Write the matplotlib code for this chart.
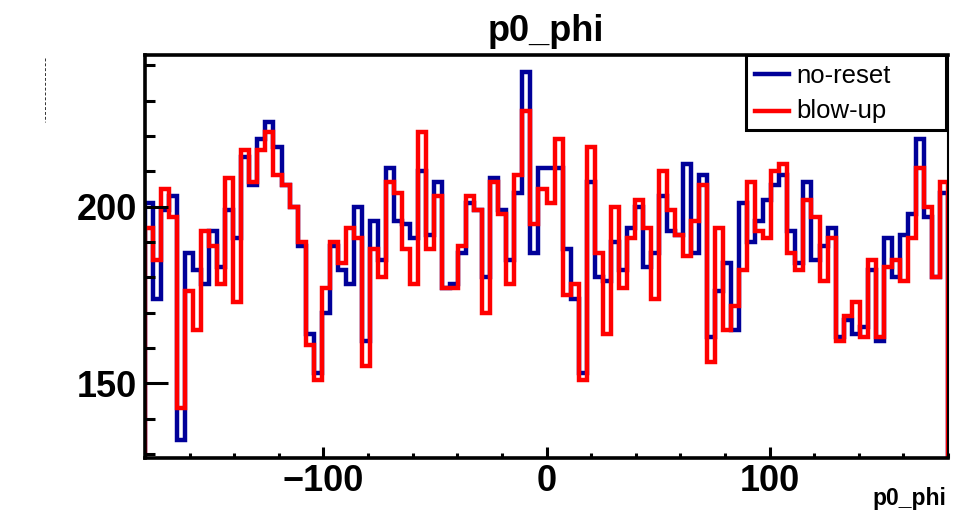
import numpy as np
import matplotlib
matplotlib.use("Agg")
import matplotlib.pyplot as plt
from matplotlib.ticker import MultipleLocator
from matplotlib.lines import Line2D
from matplotlib.patches import Rectangle

plt.rcParams['font.family'] = ['Liberation Sans', 'DejaVu Sans']

# 100 bins over [-180, 180]
edges = np.linspace(-180, 180, 101)

no_reset = [201, 174, 199, 203, 134, 187, 182, 178, 193, 183,
            199, 191, 214, 206, 219, 224, 217, 206, 200, 189,
            164, 153, 170, 189, 182, 178, 200, 162, 196, 185,
            211, 196, 195, 191, 210, 192, 207, 177, 178, 187,
            201, 199, 180, 208, 199, 185, 204, 238, 187, 211,
            211, 211, 188, 174, 153, 207, 180, 179, 190, 182,
            194, 200, 183, 187, 203, 193, 192, 212, 187, 209,
            163, 176, 184, 165, 201, 190, 196, 202, 206, 209,
            193, 184, 207, 185, 189, 194, 163, 168, 164, 166,
            182, 162, 191, 180, 192, 198, 219, 197, 180, 204]

blow_up = [194, 185, 205, 197, 143, 176, 165, 193, 189, 178,
           208, 173, 216, 207, 216, 221, 209, 206, 200, 190,
           161, 151, 177, 190, 184, 194, 191, 155, 188, 180,
           207, 204, 188, 178, 221, 188, 203, 177, 177, 189,
           203, 199, 170, 207, 198, 178, 209, 227, 195, 205,
           201, 219, 175, 178, 151, 217, 187, 164, 200, 177,
           191, 202, 194, 174, 210, 199, 192, 186, 196, 206,
           156, 194, 165, 172, 182, 207, 193, 191, 210, 212,
           187, 182, 202, 197, 179, 191, 162, 169, 173, 163,
           185, 163, 183, 185, 179, 191, 211, 200, 180, 207]

series = [no_reset, blow_up]
labels = ["no-reset", "blow-up"]
colors = ["#000099", "#ff0000"]

W, H = 954, 512
fig = plt.figure(figsize=(W / 100, H / 100), dpi=100)
ax = fig.add_axes([145 / W, 1 - 458 / H, (948 - 145) / W, (458 - 55) / H])

for vals, c in zip(series, colors):
    ax.stairs(vals, edges, baseline=0, color=c, linewidth=3.2, joinstyle='miter')

ax.set_xlim(-180, 180)
ax.set_ylim(128.9, 242.9)

ax.xaxis.set_major_locator(MultipleLocator(100))
ax.xaxis.set_minor_locator(MultipleLocator(20))
ax.yaxis.set_major_locator(MultipleLocator(50))
ax.yaxis.set_minor_locator(MultipleLocator(10))

ax.tick_params(axis='x', which='major', direction='in', length=8, width=2.2, labelsize=26, pad=4)
ax.tick_params(axis='x', which='minor', direction='in', length=3.6, width=2.2)
ax.tick_params(axis='y', which='major', direction='in', length=16.5, width=2.2, labelsize=26, pad=6)
ax.tick_params(axis='y', which='minor', direction='in', length=7.5, width=2.2)
for lab in ax.get_xticklabels() + ax.get_yticklabels():
    lab.set_fontweight('bold')

for side in ['left', 'bottom', 'top']:
    ax.spines[side].set_linewidth(2.6)
ax.spines['right'].set_linewidth(1.5)

# title and axis title
fig.text(546 / W, 1 - 41 / H, "p0_phi", ha='center', va='baseline',
         fontsize=26, fontweight='bold')
fig.text(946 / W, 1 - 505 / H, "p0_phi", ha='right', va='baseline',
         fontsize=16.5, fontweight='bold')

# legend box, ROOT style
box = Rectangle((746 / W, 1 - 130 / H), 200 / W, 75 / H, transform=fig.transFigure,
                facecolor='white', edgecolor='black', linewidth=2.2, zorder=5)
fig.add_artist(box)
for k, (lab, c) in enumerate(zip(labels, colors)):
    yl = 1 - (74 + 37 * k) / H
    fig.add_artist(Line2D([755 / W, 789 / W], [yl, yl], color=c, lw=3.2,
                          transform=fig.transFigure, zorder=6))
    fig.text(796 / W, 1 - (83 + 35 * k) / H, lab, ha='left', va='baseline',
             fontsize=18.5, zorder=7)

# little dashed stub left of the frame
fig.add_artist(Line2D([45 / W, 45 / W], [1 - 58 / H, 1 - 122 / H], lw=0.7,
                      ls=(0, (3, 2)), color='#333333', transform=fig.transFigure))

fig.savefig("out.png", dpi=100)
